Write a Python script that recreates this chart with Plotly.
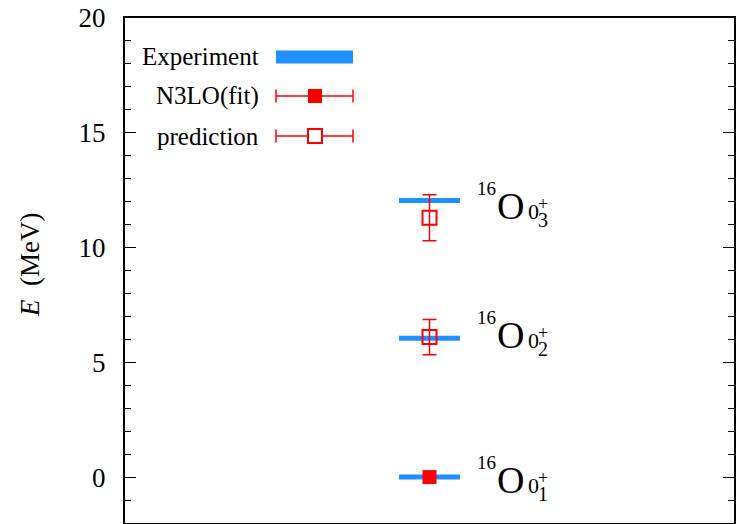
import plotly.graph_objects as go

# ---------------- data ----------------
levels = ["0_1", "0_2", "0_3"]
level_sub = ["1", "2", "3"]
experiment_E = [0.0, 6.05, 12.05]
fit_E = [0.0]
fit_err = [0.0]
pred_E = [6.10, 11.30]
pred_err = [0.77, 1.00]
label_E = [-0.13, 6.17, 11.80]
x_center = 0.5
bar_half = 0.05
y_ticks = [0, 5, 10, 15, 20]

BLUE = "#1E90FF"
RED = "#FF0000"
FONT = "'Liberation Serif', Tinos, 'Times New Roman', Times, 'DejaVu Serif', serif"

W, H = 737, 524
ML, MR, MT, MB = 125, 3, 18, 1
PW = W - ML - MR
PH = H - MT - MB


def px(x):
    return (x - ML) / PW


def py(y):
    return (H - MB - y) / PH


fig = go.Figure()

# experiment bars
bx, by = [], []
for e in experiment_E:
    bx += [x_center - bar_half, x_center + bar_half, None]
    by += [e, e, None]
fig.add_trace(go.Scatter(x=bx, y=by, mode="lines", line=dict(color=BLUE, width=5),
                         showlegend=False, hoverinfo="skip"))

# N3LO fit
fig.add_trace(go.Scatter(x=[x_center] * len(fit_E), y=fit_E, mode="markers",
                         marker=dict(symbol="square", size=14, color=RED),
                         error_y=dict(type="data", array=fit_err, color=RED, thickness=1.5, width=7),
                         showlegend=False))

# prediction
fig.add_trace(go.Scatter(x=[x_center] * len(pred_E), y=pred_E, mode="markers",
                         marker=dict(symbol="square-open", size=14, color=RED, line=dict(width=2, color=RED)),
                         error_y=dict(type="data", array=pred_err, color=RED, thickness=1.5, width=7),
                         showlegend=False))

# level labels: ^{16}O_{0^+_n}
annotations = []
pieces = [
    # text, font size, xshift, yshift
    ("16", 19, 46, 18),
    ("O", 38, 66, 0),
    ("0", 22, 97, -5),
    ("+", 18, 107, 2),
    (None, 20, 107, -14),
]
for le, sub in zip(label_E, level_sub):
    for txt, fs, xs, ys in pieces:
        annotations.append(dict(x=x_center, y=le, xref="x", yref="y", text=txt if txt else sub,
                                showarrow=False, xanchor="left", yanchor="middle", borderpad=0,
                                xshift=xs, yshift=ys, font=dict(family=FONT, size=fs, color="black")))

# custom legend (text left, key right)
legend_items = ["Experiment", "N3LO(fit)", "prediction"]
legend_y = [57, 96, 136]
for name, ly in zip(legend_items, legend_y):
    annotations.append(dict(x=px(260), y=py(ly), xref="paper", yref="paper", text=name,
                            showarrow=False, xanchor="right", yanchor="middle", borderpad=0,
                            font=dict(family=FONT, size=25, color="black")))

# y-axis title
annotations.append(dict(x=px(30), y=py(265), xref="paper", yref="paper",
                        text="<i>E</i>&nbsp;&nbsp;(MeV)",
                        showarrow=False, textangle=-90, xanchor="center", yanchor="middle",
                        font=dict(family=FONT, size=27, color="black")))

shapes = []
# Experiment key
shapes.append(dict(type="rect", xref="paper", yref="paper", x0=px(276), x1=px(353),
                   y0=py(63.5), y1=py(50.5), fillcolor=BLUE, line=dict(width=0)))
# error-bar keys
for ly, filled in [(legend_y[1], True), (legend_y[2], False)]:
    shapes.append(dict(type="line", xref="paper", yref="paper", x0=px(276), x1=px(353),
                       y0=py(ly), y1=py(ly), line=dict(color=RED, width=1.5)))
    for cx in (276, 353):
        shapes.append(dict(type="line", xref="paper", yref="paper", x0=px(cx), x1=px(cx),
                           y0=py(ly - 6.5), y1=py(ly + 6.5), line=dict(color=RED, width=1.5)))
    shapes.append(dict(type="rect", xref="paper", yref="paper", x0=px(308), x1=px(322),
                       y0=py(ly + 7), y1=py(ly - 7),
                       fillcolor=RED if filled else "white",
                       line=dict(color=RED, width=0 if filled else 2)))

fig.update_layout(
    width=W, height=H,
    margin=dict(l=ML, r=MR, t=MT, b=MB, autoexpand=False),
    paper_bgcolor="white", plot_bgcolor="white",
    showlegend=False,
    annotations=annotations,
    shapes=shapes,
    font=dict(family=FONT, color="black"),
    xaxis=dict(range=[0, 1], showticklabels=False, ticks="", showgrid=False, zeroline=False,
               showline=True, linecolor="black", linewidth=2, mirror=True, automargin=False),
    yaxis=dict(range=[-2, 20], tickvals=y_ticks, ticks="inside", ticklen=11, tickwidth=1.2,
               tickcolor="black", showgrid=False, zeroline=False, automargin=False,
               showline=True, linecolor="black", linewidth=2, mirror="allticks",
               tickfont=dict(family=FONT, size=27, color="black"), ticklabelstandoff=12,
               minor=dict(dtick=1, ticks="inside", ticklen=6, tickwidth=1.2, tickcolor="black", showgrid=False)),
)

fig.write_html("out.html", config={"displayModeBar": False},
               post_script="document.body.style.margin='0';document.body.style.overflow='hidden';")
